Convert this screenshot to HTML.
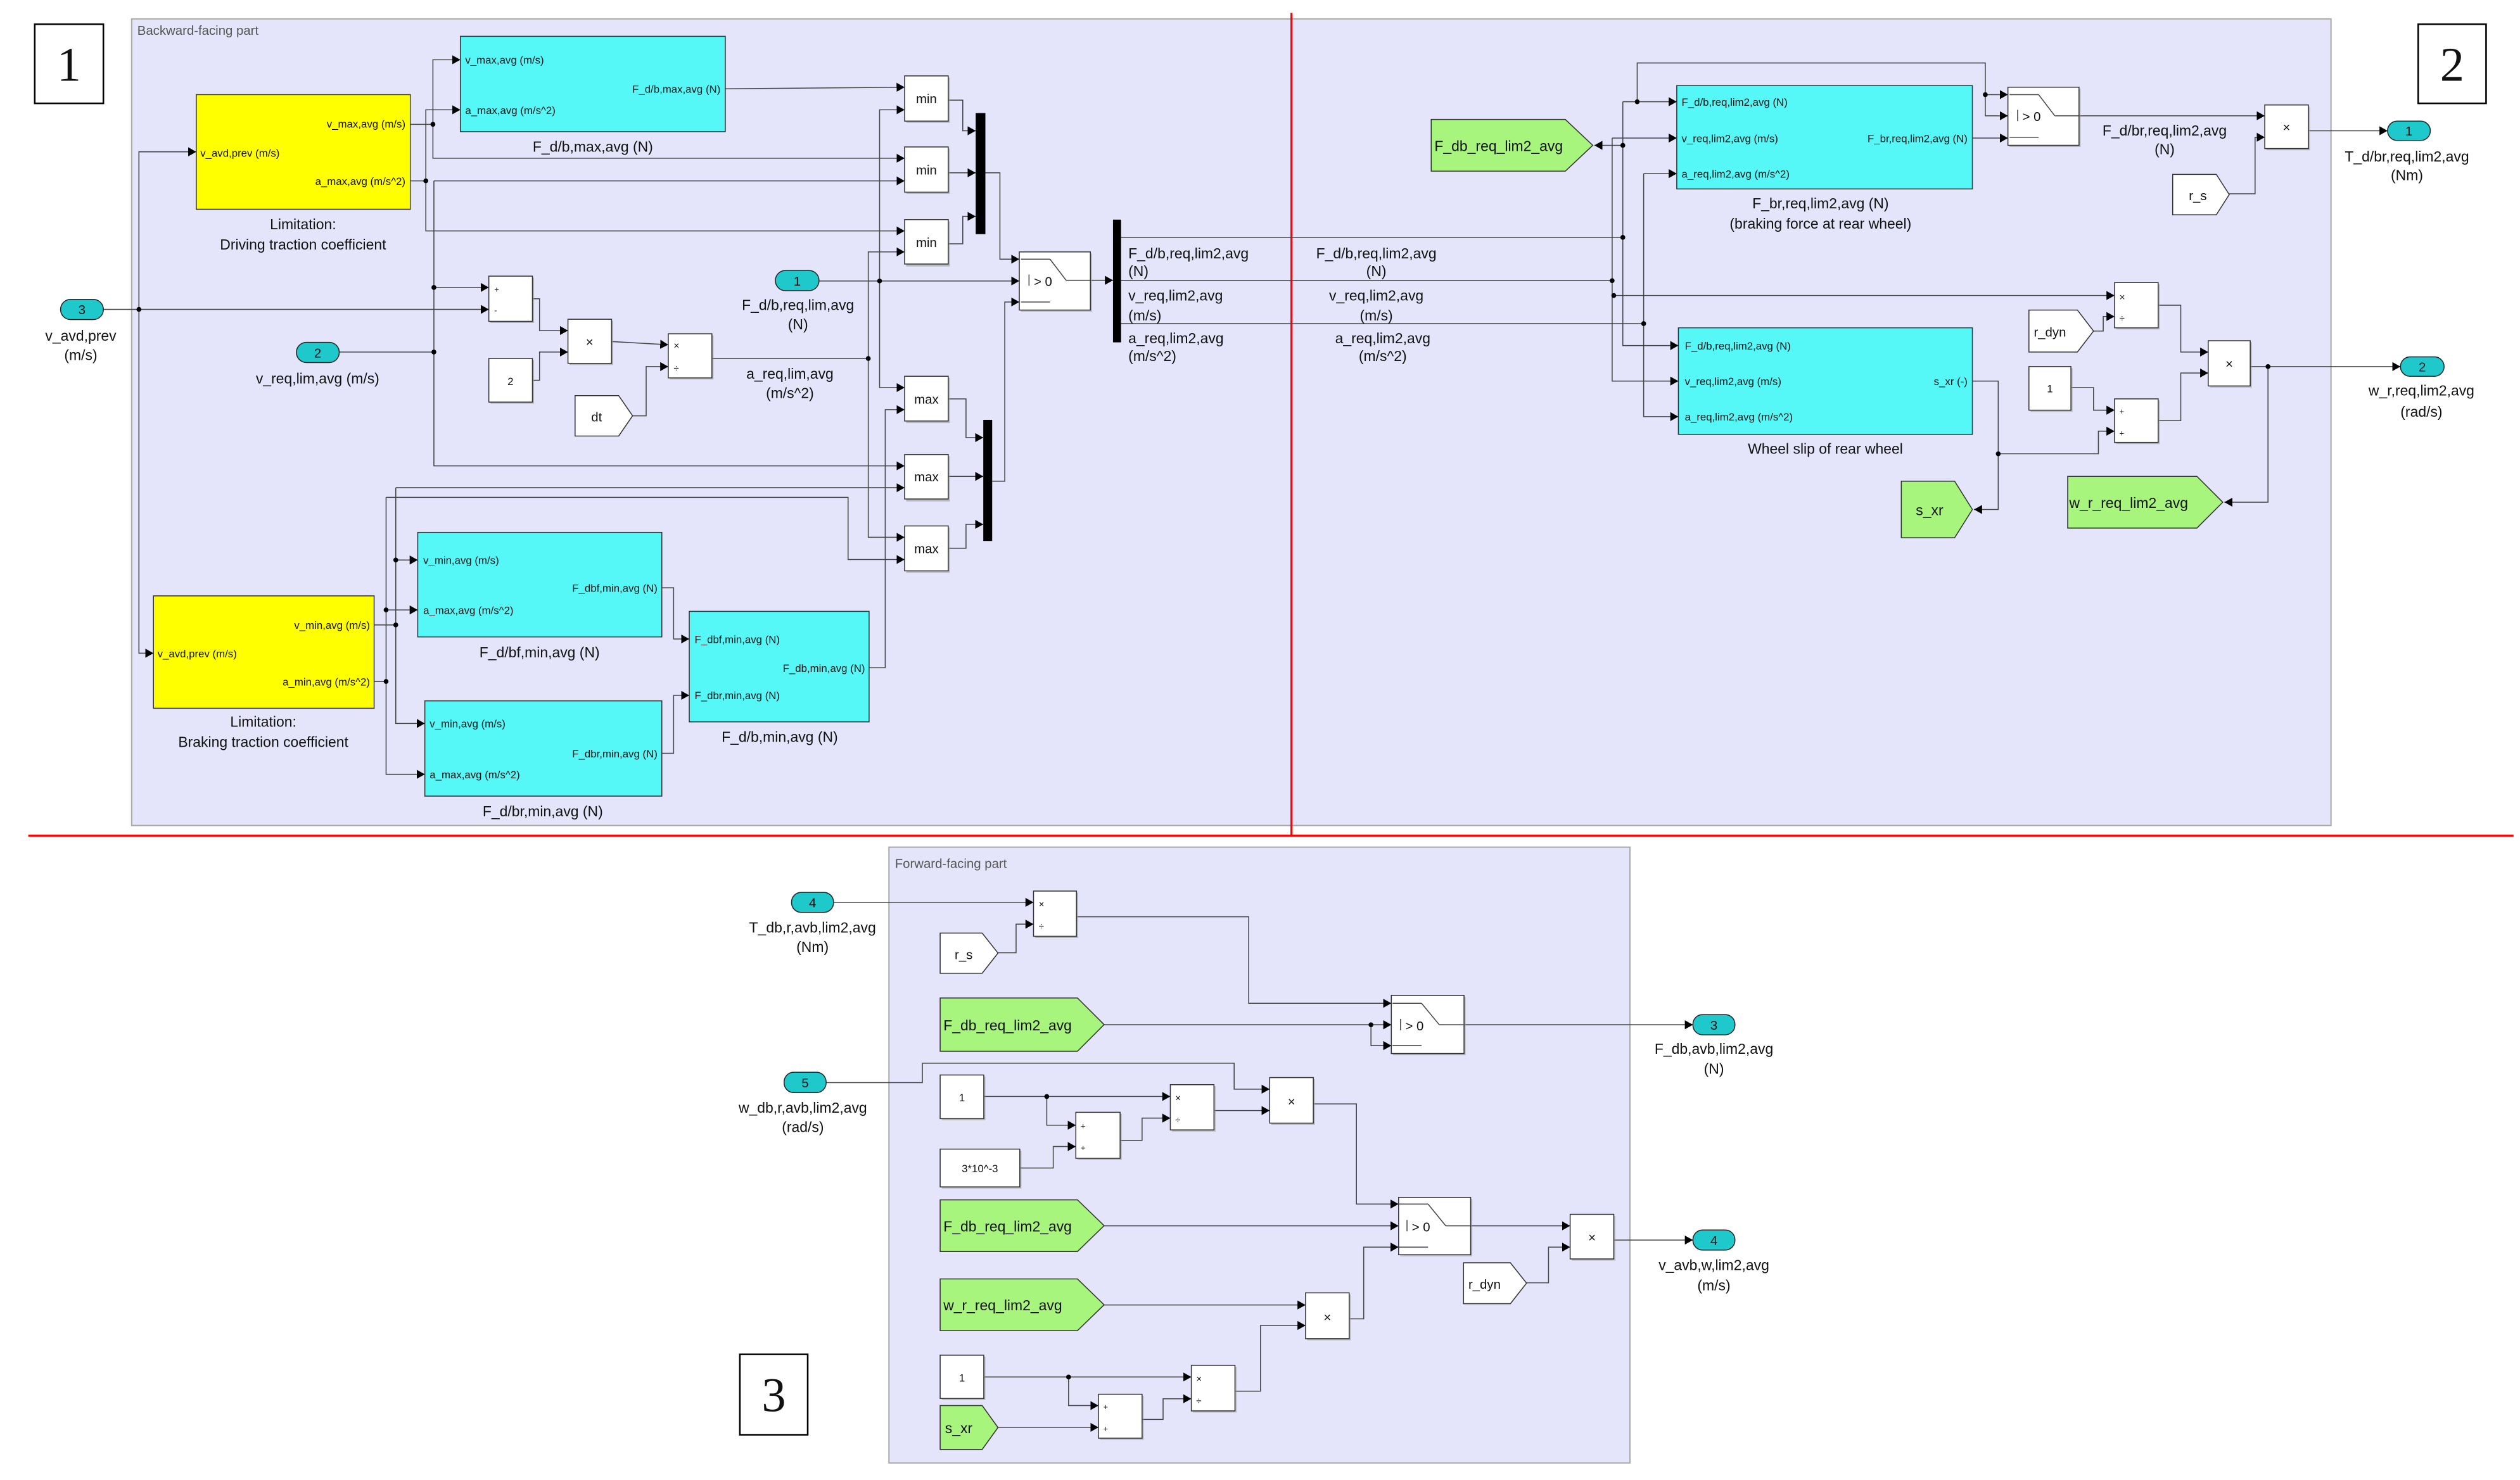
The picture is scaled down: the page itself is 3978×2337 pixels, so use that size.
<!DOCTYPE html>
<html><head><meta charset="utf-8"><style>
html,body{margin:0;padding:0;background:#fff}
svg{display:block}
text{font-family:"Liberation Sans",sans-serif;fill:#111}
.w{fill:none;stroke:#444;stroke-width:0.6}
.b{fill:#fff;stroke:#333;stroke-width:0.6}
.c{fill:#55f7f7;stroke:#333;stroke-width:0.6}
.y{fill:#ffff00;stroke:#333;stroke-width:0.6}
.g{fill:#a8f57e;stroke:#333;stroke-width:0.6}
.io{fill:#1fc8cb;stroke:#222;stroke-width:0.6}
.s{fill:#999;opacity:.6}
.p{font-size:6.6px}
.l{font-size:9px}
.t{font-size:8px}
.n{font-family:"Liberation Serif",serif;font-size:30px}
</style></head><body>
<svg width="3978" height="2337" viewBox="0 0 1560 916.5" preserveAspectRatio="none" xmlns="http://www.w3.org/2000/svg">
<defs><marker id="a" markerUnits="userSpaceOnUse" markerWidth="6" markerHeight="6" refX="5" refY="3" orient="auto"><path d="M0,0.2 L5,3 L0,5.8z" fill="#000"/></marker></defs>
<rect width="1560" height="916.5" fill="#fff"/>
<!-- panels -->
<rect x="81.5" y="11.7" width="1361.5" height="499.5" fill="#e4e4fa" stroke="#aaa" stroke-width="0.8"/>
<text x="85" y="21.5" class="t" fill="#555" style="fill:#555">Backward-facing part</text>
<rect x="550.3" y="524.6" width="458.7" height="381.4" fill="#e4e4fa" stroke="#aaa" stroke-width="0.8"/>
<text x="554" y="537.5" class="t" style="fill:#555">Forward-facing part</text>
<!-- red lines -->
<line x1="799.5" y1="8" x2="799.5" y2="518" stroke="#f00" stroke-width="1.3"/>
<line x1="17.5" y1="517.5" x2="1556" y2="517.5" stroke="#f00" stroke-width="1.3"/>
<!-- number boxes -->
<rect x="21.5" y="15" width="42.5" height="49" fill="#fff" stroke="#000" stroke-width="1"/><text x="42.7" y="50" class="n" text-anchor="middle">1</text>
<rect x="1497" y="15" width="42" height="49" fill="#fff" stroke="#000" stroke-width="1"/><text x="1518" y="50" class="n" text-anchor="middle">2</text>
<rect x="458" y="838.7" width="42" height="49.8" fill="#fff" stroke="#000" stroke-width="1"/><text x="479" y="874" class="n" text-anchor="middle">3</text>

<!-- ===== PANEL 1 wires ===== -->
<g class="w">
<polyline points="64,191.6 302.6,191.6" marker-end="url(#a)"/>
<polyline points="86,191.6 86,94 121.5,94" marker-end="url(#a)"/>
<polyline points="86,191.6 86,404.5 95,404.5" marker-end="url(#a)"/>
<!-- v_max -->
<polyline points="254,77 268,77"/>
<polyline points="268,77 268,37 285,37" marker-end="url(#a)"/>
<polyline points="268,77 268,98 560,98" marker-end="url(#a)"/>
<!-- a_max -->
<polyline points="254,112 263.6,112"/>
<polyline points="263.6,112 263.6,68 285,68" marker-end="url(#a)"/>
<polyline points="263.6,112 263.6,143 560,143" marker-end="url(#a)"/>
<!-- v_req -->
<polyline points="210,218 268.6,218"/>
<polyline points="268.6,112 560,112" marker-end="url(#a)"/>
<polyline points="268.6,112 268.6,288.5 560,288.5" marker-end="url(#a)"/>
<polyline points="268.6,178 302.6,178" marker-end="url(#a)"/>
<!-- F max -->
<polyline points="449,55 560,54" marker-end="url(#a)"/>
<!-- yellow 2 -->
<polyline points="231.6,387 245,387"/>
<polyline points="245,346.8 258.6,346.8" marker-end="url(#a)"/>
<polyline points="245,302 245,448 263,448" marker-end="url(#a)"/>
<polyline points="245,302 560,302" marker-end="url(#a)"/>
<polyline points="231.6,422 239,422"/>
<polyline points="239,377.7 258.6,377.7" marker-end="url(#a)"/>
<polyline points="239,308 239,479.5 263,479.5" marker-end="url(#a)"/>
<polyline points="239,308 525,308 525,346.5 560,346.5" marker-end="url(#a)"/>
<polyline points="409.7,364 417,364 417,395.7 426.7,395.7" marker-end="url(#a)"/>
<polyline points="409.7,466.5 417,466.5 417,430.6 426.7,430.6" marker-end="url(#a)"/>
<polyline points="538,413.5 548,413.5 548,253.7 560,253.7" marker-end="url(#a)"/>
<!-- F req -->
<polyline points="507,174 631,174" marker-end="url(#a)"/>
<polyline points="544.5,174 544.5,68 560,68" marker-end="url(#a)"/>
<polyline points="544.5,174 544.5,240 560,240" marker-end="url(#a)"/>
<!-- a req -->
<polyline points="440.7,222 537.5,222"/>
<polyline points="537.5,222 537.5,156 560,156" marker-end="url(#a)"/>
<polyline points="537.5,222 537.5,332.7 560,332.7" marker-end="url(#a)"/>
<!-- min outs -->
<polyline points="587,62 596,62 596,81 604,81" marker-end="url(#a)"/>
<polyline points="587,107 604,107" marker-end="url(#a)"/>
<polyline points="587,151 596,151 596,134 604,134" marker-end="url(#a)"/>
<polyline points="610,107 619,107 619,160.5 631,160.5" marker-end="url(#a)"/>
<polyline points="587,247 598,247 598,271 608.7,271" marker-end="url(#a)"/>
<polyline points="587,295 608.7,295" marker-end="url(#a)"/>
<polyline points="587,339.5 598,339.5 598,324.7 608.7,324.7" marker-end="url(#a)"/>
<polyline points="614,298 622,298 622,187 631,187" marker-end="url(#a)"/>
<polyline points="675,173.6 689,173.6" marker-end="url(#a)"/>
<!-- sum/prod -->
<polyline points="329.6,185 334,185 334,204.7 351.6,204.7" marker-end="url(#a)"/>
<polyline points="329.6,235.5 334,235.5 334,218 351.6,218" marker-end="url(#a)"/>
<polyline points="378.6,211.5 413.7,213.5" marker-end="url(#a)"/>
<polyline points="391.6,257.5 400,257.5 400,227 413.7,227" marker-end="url(#a)"/>
<!-- bus -->
<polyline points="694,147 1004.6,147"/>
<polyline points="694,173.8 998,173.8"/>
<polyline points="694,200.4 1017.5,200.4"/>
</g>
<g fill="#000">
<circle cx="86" cy="191.6" r="1.5"/><circle cx="268" cy="77" r="1.5"/><circle cx="263.6" cy="112" r="1.5"/>
<circle cx="268.6" cy="218" r="1.5"/><circle cx="268.6" cy="178" r="1.5"/><circle cx="245" cy="387" r="1.5"/>
<circle cx="245" cy="346.8" r="1.5"/><circle cx="239" cy="422" r="1.5"/><circle cx="239" cy="377.7" r="1.5"/>
<circle cx="544.5" cy="174" r="1.5"/><circle cx="537.5" cy="222" r="1.5"/>
</g>
<!-- blocks panel1 -->
<rect x="121.5" y="58.6" width="132.5" height="71" class="y"/>
<text x="251" y="79" class="p" text-anchor="end">v_max,avg (m/s)</text>
<text x="124" y="97" class="p">v_avd,prev (m/s)</text>
<text x="251" y="114.5" class="p" text-anchor="end">a_max,avg (m/s^2)</text>
<text x="187.6" y="142" class="l" text-anchor="middle">Limitation:</text>
<text x="187.6" y="154.5" class="l" text-anchor="middle">Driving traction coefficient</text>

<rect x="95" y="369" width="136.6" height="69.6" class="y"/>
<text x="229" y="389.5" class="p" text-anchor="end">v_min,avg (m/s)</text>
<text x="97.5" y="407" class="p">v_avd,prev (m/s)</text>
<text x="229" y="424.5" class="p" text-anchor="end">a_min,avg (m/s^2)</text>
<text x="163" y="450" class="l" text-anchor="middle">Limitation:</text>
<text x="163" y="462.5" class="l" text-anchor="middle">Braking traction coefficient</text>

<rect x="285" y="22.5" width="164" height="59" class="c"/>
<text x="288" y="39.5" class="p">v_max,avg (m/s)</text>
<text x="446" y="57.5" class="p" text-anchor="end">F_d/b,max,avg (N)</text>
<text x="288" y="70.5" class="p">a_max,avg (m/s^2)</text>
<text x="367" y="94" class="l" text-anchor="middle">F_d/b,max,avg (N)</text>

<rect x="258.6" y="329.7" width="151.1" height="64.7" class="c"/>
<text x="262" y="349.3" class="p">v_min,avg (m/s)</text>
<text x="407" y="366.5" class="p" text-anchor="end">F_dbf,min,avg (N)</text>
<text x="262" y="380.2" class="p">a_max,avg (m/s^2)</text>
<text x="334" y="407" class="l" text-anchor="middle">F_d/bf,min,avg (N)</text>

<rect x="263" y="434" width="146.7" height="59" class="c"/>
<text x="266" y="450.5" class="p">v_min,avg (m/s)</text>
<text x="407" y="469" class="p" text-anchor="end">F_dbr,min,avg (N)</text>
<text x="266" y="482" class="p">a_max,avg (m/s^2)</text>
<text x="336" y="505.5" class="l" text-anchor="middle">F_d/br,min,avg (N)</text>

<rect x="426.7" y="378.6" width="111.3" height="68.4" class="c"/>
<text x="430" y="398.2" class="p">F_dbf,min,avg (N)</text>
<text x="535.5" y="416" class="p" text-anchor="end">F_db,min,avg (N)</text>
<text x="430" y="433" class="p">F_dbr,min,avg (N)</text>
<text x="482.7" y="459.5" class="l" text-anchor="middle">F_d/b,min,avg (N)</text>

<g class="t" text-anchor="middle">
<rect x="561" y="48" width="27" height="28" class="s"/><rect x="560" y="47" width="27" height="28" class="b"/><text x="573.5" y="64">min</text>
<rect x="561" y="92" width="27" height="28" class="s"/><rect x="560" y="91" width="27" height="28" class="b"/><text x="573.5" y="108">min</text>
<rect x="561" y="137" width="27" height="28" class="s"/><rect x="560" y="136" width="27" height="27.5" class="b"/><text x="573.5" y="153">min</text>
<rect x="561" y="234" width="27" height="28" class="s"/><rect x="560" y="233" width="27" height="27.7" class="b"/><text x="573.5" y="250">max</text>
<rect x="561" y="282.5" width="27" height="28" class="s"/><rect x="560" y="281.5" width="27" height="27.5" class="b"/><text x="573.5" y="298">max</text>
<rect x="561" y="326.7" width="27" height="28" class="s"/><rect x="560" y="325.7" width="27" height="27.8" class="b"/><text x="573.5" y="342.5">max</text>
</g>
<rect x="604" y="70" width="6" height="75" fill="#000"/>
<rect x="608.7" y="260" width="5.5" height="75" fill="#000"/>
<rect x="689" y="136" width="5" height="76" fill="#000"/>
<!-- switch1 -->
<rect x="632" y="157" width="44" height="36" class="s"/>
<rect x="631" y="156" width="44" height="36" class="b"/>
<g class="w"><line x1="632" y1="160.5" x2="650" y2="160.5"/><line x1="650" y1="160.5" x2="660" y2="173.6"/><line x1="660" y1="173.6" x2="675" y2="173.6"/><line x1="632" y1="187" x2="650" y2="187"/><line x1="637" y1="170" x2="637" y2="177"/></g>
<text x="640" y="177" class="t">&gt; 0</text>
<!-- sum, prod etc -->
<rect x="303.6" y="172" width="27" height="28" class="s"/><rect x="302.6" y="171" width="27" height="28" class="b"/>
<text x="306" y="181" style="font-size:5px">+</text><text x="306" y="194" style="font-size:5px">-</text>
<rect x="352.6" y="198.7" width="27" height="27.3" class="s"/><rect x="351.6" y="197.7" width="27" height="27.3" class="b"/><text x="365" y="214.5" class="t" text-anchor="middle">×</text>
<rect x="303.6" y="223" width="27" height="27" class="s"/><rect x="302.6" y="222" width="27" height="27" class="b"/><text x="316" y="238.5" class="p" text-anchor="middle">2</text>
<rect x="414.7" y="207.7" width="27" height="27.3" class="s"/><rect x="413.7" y="206.7" width="27" height="27.3" class="b"/>
<text x="417" y="216" style="font-size:6px">×</text><text x="417" y="230" style="font-size:6px">÷</text>
<polygon points="356,245 383,245 391.6,257.5 383,270 356,270" class="b"/><text x="366" y="261" class="t">dt</text>
<text x="489" y="234.5" class="l" text-anchor="middle">a_req,lim,avg</text>
<text x="489" y="246.5" class="l" text-anchor="middle">(m/s^2)</text>
<!-- inports -->
<rect x="480" y="167.5" width="27" height="12.5" rx="6.2" class="io"/><text x="493.5" y="176.8" class="t" text-anchor="middle">1</text>
<text x="494" y="192" class="l" text-anchor="middle">F_d/b,req,lim,avg</text><text x="494" y="204" class="l" text-anchor="middle">(N)</text>
<rect x="37.5" y="185.4" width="26.5" height="12.5" rx="6.2" class="io"/><text x="50.7" y="194.6" class="t" text-anchor="middle">3</text>
<text x="50" y="211" class="l" text-anchor="middle">v_avd,prev</text><text x="50" y="223" class="l" text-anchor="middle">(m/s)</text>
<rect x="183.5" y="212" width="26.5" height="12.5" rx="6.2" class="io"/><text x="196.7" y="221.3" class="t" text-anchor="middle">2</text>
<text x="196.6" y="237.5" class="l" text-anchor="middle">v_req,lim,avg (m/s)</text>
<!-- bus labels -->
<g class="l">
<text x="698.5" y="160">F_d/b,req,lim2,avg</text><text x="698.5" y="171">(N)</text>
<text x="698.5" y="186">v_req,lim2,avg</text><text x="698.5" y="198.5">(m/s)</text>
<text x="698.5" y="212.5">a_req,lim2,avg</text><text x="698.5" y="223.5">(m/s^2)</text>
</g>
<g class="l" text-anchor="middle">
<text x="852" y="160">F_d/b,req,lim2,avg</text><text x="852" y="171">(N)</text>
<text x="852" y="186">v_req,lim2,avg</text><text x="852" y="198.5">(m/s)</text>
<text x="856" y="212.5">a_req,lim2,avg</text><text x="856" y="223.5">(m/s^2)</text>
</g>

<!-- ===== PANEL 2 ===== -->
<g class="w">
<polyline points="1004.6,147 1004.6,63"/>
<polyline points="1004.6,90 987,90" marker-end="url(#a)"/>
<polyline points="1004.6,63 1038,63" marker-end="url(#a)"/>
<polyline points="1013.5,63 1013.5,39 1229,39 1229,58.6 1243,58.6" marker-end="url(#a)"/>
<polyline points="1229,58.6 1229,71.7 1243,71.7" marker-end="url(#a)"/>
<polyline points="1004.6,147 1004.6,214 1039,214" marker-end="url(#a)"/>
<polyline points="998,85.5 1038,85.5" marker-end="url(#a)"/>
<polyline points="998,85.5 998,236 1039,236" marker-end="url(#a)"/>
<polyline points="1000,183 1309,183" marker-end="url(#a)"/>
<polyline points="1017.5,107.5 1038,107.5" marker-end="url(#a)"/>
<polyline points="1017.5,107.5 1017.5,258 1039,258" marker-end="url(#a)"/>
<polyline points="1221,85.5 1243,85.5" marker-end="url(#a)"/>
<polyline points="1287,71.7 1402,71.7" marker-end="url(#a)"/>
<polyline points="1380,120 1396,120 1396,85 1402,85" marker-end="url(#a)"/>
<polyline points="1429,81 1478,81" marker-end="url(#a)"/>
<polyline points="1296,205 1302,205 1302,196 1309,196" marker-end="url(#a)"/>
<polyline points="1336,189 1350,189 1350,218 1367,218" marker-end="url(#a)"/>
<polyline points="1282,240 1296,240 1296,254 1309,254" marker-end="url(#a)"/>
<polyline points="1221,236 1237,236 1237,315.5 1222,315.5" marker-end="url(#a)"/>
<polyline points="1237,281 1299,281 1299,267 1309,267" marker-end="url(#a)"/>
<polyline points="1336,260.5 1350,260.5 1350,231 1367,231" marker-end="url(#a)"/>
<polyline points="1393,227 1486,227" marker-end="url(#a)"/>
<polyline points="1404,227 1404,311 1377,311" marker-end="url(#a)"/>
</g>
<g fill="#000">
<circle cx="1004.6" cy="147" r="1.5"/><circle cx="1004.6" cy="90" r="1.5"/><circle cx="1013.5" cy="63" r="1.5"/>
<circle cx="998" cy="173.8" r="1.5"/><circle cx="999" cy="183" r="1.5"/><circle cx="1017.5" cy="200.4" r="1.5"/>
<circle cx="1229" cy="58.6" r="1.5"/><circle cx="1237" cy="281" r="1.5"/><circle cx="1404" cy="227" r="1.5"/>
</g>
<polygon points="886,74 969,74 986,90 969,106 886,106" class="g"/>
<text x="888" y="93.5" class="l">F_db_req_lim2_avg</text>
<rect x="1038" y="53" width="183" height="64" class="c"/>
<text x="1041" y="65.5" class="p">F_d/b,req,lim2,avg (N)</text>
<text x="1041" y="88" class="p">v_req,lim2,avg (m/s)</text>
<text x="1218" y="88" class="p" text-anchor="end">F_br,req,lim2,avg (N)</text>
<text x="1041" y="110" class="p">a_req,lim2,avg (m/s^2)</text>
<text x="1127" y="129" class="l" text-anchor="middle">F_br,req,lim2,avg (N)</text>
<text x="1127" y="141.5" class="l" text-anchor="middle">(braking force at rear wheel)</text>
<rect x="1244" y="55" width="44" height="36" class="s"/><rect x="1243" y="54" width="44" height="36" class="b"/>
<g class="w"><line x1="1244" y1="58.6" x2="1262" y2="58.6"/><line x1="1262" y1="58.6" x2="1272" y2="71.7"/><line x1="1272" y1="71.7" x2="1287" y2="71.7"/><line x1="1244" y1="85" x2="1262" y2="85"/><line x1="1249" y1="68" x2="1249" y2="75"/></g>
<text x="1252" y="75" class="t">&gt; 0</text>
<rect x="1403" y="66" width="27" height="27" class="s"/><rect x="1402" y="65" width="27" height="27" class="b"/><text x="1415.5" y="81.5" class="t" text-anchor="middle">×</text>
<text x="1340" y="84" class="l" text-anchor="middle">F_d/br,req,lim2,avg</text><text x="1340" y="95.5" class="l" text-anchor="middle">(N)</text>
<rect x="1478" y="75" width="26.5" height="12" rx="6" class="io"/><text x="1491.2" y="84" class="t" text-anchor="middle">1</text>
<text x="1490" y="100" class="l" text-anchor="middle">T_d/br,req,lim2,avg</text><text x="1490" y="111.5" class="l" text-anchor="middle">(Nm)</text>
<polygon points="1345,108 1372,108 1380,120.5 1372,133 1345,133" class="b"/><text x="1355" y="124" class="t">r_s</text>
<rect x="1039" y="203" width="182" height="66" class="c"/>
<text x="1043" y="216.5" class="p">F_d/b,req,lim2,avg (N)</text>
<text x="1043" y="238.5" class="p">v_req,lim2,avg (m/s)</text>
<text x="1218" y="238.5" class="p" text-anchor="end">s_xr (-)</text>
<text x="1043" y="260.5" class="p">a_req,lim2,avg (m/s^2)</text>
<text x="1130" y="281" class="l" text-anchor="middle">Wheel slip of rear wheel</text>
<rect x="1310" y="176" width="27" height="28" class="s"/><rect x="1309" y="175" width="27" height="28" class="b"/>
<text x="1312" y="186" style="font-size:6px">×</text><text x="1312" y="199" style="font-size:6px">÷</text>
<polygon points="1256,192 1286,192 1296,205 1286,218 1256,218" class="b"/><text x="1259" y="208.5" class="t">r_dyn</text>
<rect x="1257" y="228" width="26" height="27" class="s"/><rect x="1256" y="227" width="26" height="27" class="b"/><text x="1269" y="243" class="p" text-anchor="middle">1</text>
<rect x="1310" y="248" width="27" height="27" class="s"/><rect x="1309" y="247" width="27" height="27" class="b"/>
<text x="1312" y="256.5" style="font-size:5px">+</text><text x="1312" y="270" style="font-size:5px">+</text>
<rect x="1368" y="212" width="26" height="28" class="s"/><rect x="1367" y="211" width="26" height="28" class="b"/><text x="1380" y="228" class="t" text-anchor="middle">×</text>
<rect x="1486" y="221" width="27" height="12" rx="6" class="io"/><text x="1499.5" y="230" class="t" text-anchor="middle">2</text>
<text x="1499" y="245" class="l" text-anchor="middle">w_r,req,lim2,avg</text><text x="1499" y="258" class="l" text-anchor="middle">(rad/s)</text>
<polygon points="1177,298 1210,298 1221,315.5 1210,333 1177,333" class="g"/><text x="1186" y="319" class="l">s_xr</text>
<polygon points="1280,295 1360,295 1376,311 1360,327 1280,327" class="g"/><text x="1281" y="314.5" class="l">w_r_req_lim2_avg</text>

<!-- ===== PANEL 3 ===== -->
<g class="w">
<polyline points="516,558.8 639.8,558.8" marker-end="url(#a)"/>
<polyline points="617.8,590 629,590 629,572.3 639.8,572.3" marker-end="url(#a)"/>
<polyline points="666.4,567.7 773,567.7 773,621.3 861.3,621.3" marker-end="url(#a)"/>
<polyline points="683.5,634.6 861.3,634.6" marker-end="url(#a)"/>
<polyline points="848.7,634.6 848.7,647.5 861.3,647.5" marker-end="url(#a)"/>
<polyline points="906.4,634.6 1048,634.6" marker-end="url(#a)"/>
<polyline points="511.5,670.4 571,670.4 571,658.4 764,658.4 764,674.5 786,674.5" marker-end="url(#a)"/>
<polyline points="609,679 724.5,679" marker-end="url(#a)"/>
<polyline points="648,679 648,696.8 666,696.8" marker-end="url(#a)"/>
<polyline points="631.3,723.3 652,723.3 652,710 666,710" marker-end="url(#a)"/>
<polyline points="693.4,706.2 707,706.2 707,692.4 724.5,692.4" marker-end="url(#a)"/>
<polyline points="751.5,687.7 786,687.7" marker-end="url(#a)"/>
<polyline points="813,683.6 839.7,683.6 839.7,745.6 865.8,745.6" marker-end="url(#a)"/>
<polyline points="683.5,759.1 865.8,759.1" marker-end="url(#a)"/>
<polyline points="910.4,759.1 972,759.1" marker-end="url(#a)"/>
<polyline points="945,794.4 958.6,794.4 958.6,772.3 972,772.3" marker-end="url(#a)"/>
<polyline points="999,767.9 1048,767.9" marker-end="url(#a)"/>
<polyline points="683.5,808.1 808.2,808.1" marker-end="url(#a)"/>
<polyline points="835.2,816.7 844.2,816.7 844.2,772.3 865.8,772.3" marker-end="url(#a)"/>
<polyline points="609,852.7 737.5,852.7" marker-end="url(#a)"/>
<polyline points="661.5,852.7 661.5,870.4 680,870.4" marker-end="url(#a)"/>
<polyline points="617.8,883.9 680,883.9" marker-end="url(#a)"/>
<polyline points="707,879 720,879 720,866.2 737.5,866.2" marker-end="url(#a)"/>
<polyline points="764.6,861.5 780.3,861.5 780.3,820.8 808.2,820.8" marker-end="url(#a)"/>
</g>
<g fill="#000"><circle cx="848.7" cy="634.6" r="1.5"/><circle cx="648" cy="679" r="1.5"/><circle cx="661.5" cy="852.7" r="1.5"/></g>
<rect x="490" y="552.6" width="26" height="12.4" rx="6" class="io"/><text x="503" y="561.8" class="t" text-anchor="middle">4</text>
<text x="503" y="577.5" class="l" text-anchor="middle">T_db,r,avb,lim2,avg</text><text x="503" y="589.5" class="l" text-anchor="middle">(Nm)</text>
<rect x="640.8" y="552.8" width="26.6" height="28" class="s"/><rect x="639.8" y="551.8" width="26.6" height="28" class="b"/>
<text x="643" y="562" style="font-size:6px">×</text><text x="643" y="575.5" style="font-size:6px">÷</text>
<polygon points="582,577.8 608,577.8 617.8,590.2 608,602.7 582,602.7" class="b"/><text x="591" y="594" class="t">r_s</text>
<polygon points="582,618 667,618 683.5,634.5 667,651 582,651" class="g"/><text x="584" y="638" class="l">F_db_req_lim2_avg</text>
<rect x="862.3" y="617.4" width="45" height="36" class="s"/><rect x="861.3" y="616.4" width="45" height="36" class="b"/>
<g class="w"><line x1="862" y1="621.3" x2="880" y2="621.3"/><line x1="880" y1="621.3" x2="891" y2="634.6"/><line x1="891" y1="634.6" x2="906" y2="634.6"/><line x1="862" y1="647.5" x2="880" y2="647.5"/><line x1="867" y1="631" x2="867" y2="638"/></g>
<text x="870" y="638" class="t">&gt; 0</text>
<rect x="1048" y="628.3" width="26" height="12.5" rx="6" class="io"/><text x="1061" y="637.6" class="t" text-anchor="middle">3</text>
<text x="1061" y="652.5" class="l" text-anchor="middle">F_db,avb,lim2,avg</text><text x="1061" y="665" class="l" text-anchor="middle">(N)</text>
<rect x="485.4" y="664" width="26" height="12.6" rx="6" class="io"/><text x="498.4" y="673.4" class="t" text-anchor="middle">5</text>
<text x="497" y="689" class="l" text-anchor="middle">w_db,r,avb,lim2,avg</text><text x="497" y="701" class="l" text-anchor="middle">(rad/s)</text>
<rect x="583" y="666.7" width="27" height="27" class="s"/><rect x="582" y="665.7" width="27" height="27" class="b"/><text x="595.5" y="682" class="p" text-anchor="middle">1</text>
<rect x="667" y="689.8" width="27.4" height="28.5" class="s"/><rect x="666" y="688.8" width="27.4" height="28.5" class="b"/>
<text x="669" y="699" style="font-size:5px">+</text><text x="669" y="712.5" style="font-size:5px">+</text>
<rect x="583" y="712.6" width="49.3" height="23.4" class="s"/><rect x="582" y="711.6" width="49.3" height="23.4" class="b"/><text x="606.6" y="726" class="p" text-anchor="middle">3*10^-3</text>
<rect x="725.5" y="672.7" width="27" height="28" class="s"/><rect x="724.5" y="671.7" width="27" height="28" class="b"/>
<text x="727.5" y="682" style="font-size:6px">×</text><text x="727.5" y="695.5" style="font-size:6px">÷</text>
<rect x="787" y="668.3" width="27" height="28.2" class="s"/><rect x="786" y="667.3" width="27" height="28.2" class="b"/><text x="799.5" y="685" class="t" text-anchor="middle">×</text>
<polygon points="582,743 667,743 683.5,759 667,775 582,775" class="g"/><text x="584" y="762.5" class="l">F_db_req_lim2_avg</text>
<rect x="866.8" y="742.5" width="44.6" height="35.5" class="s"/><rect x="865.8" y="741.5" width="44.6" height="35.5" class="b"/>
<g class="w"><line x1="866" y1="745.6" x2="884" y2="745.6"/><line x1="884" y1="745.6" x2="895" y2="759.1"/><line x1="895" y1="759.1" x2="910" y2="759.1"/><line x1="866" y1="772.3" x2="884" y2="772.3"/><line x1="871" y1="755.5" x2="871" y2="762.5"/></g>
<text x="874" y="762.5" class="t">&gt; 0</text>
<rect x="973" y="753" width="27" height="27.6" class="s"/><rect x="972" y="752" width="27" height="27.6" class="b"/><text x="985.5" y="769" class="t" text-anchor="middle">×</text>
<rect x="1048" y="761.7" width="26" height="12.4" rx="6" class="io"/><text x="1061" y="771" class="t" text-anchor="middle">4</text>
<text x="1061" y="786.5" class="l" text-anchor="middle">v_avb,w,lim2,avg</text><text x="1061" y="799" class="l" text-anchor="middle">(m/s)</text>
<polygon points="906,782 935,782 945,794.6 935,807.3 906,807.3" class="b"/><text x="909" y="798" class="t">r_dyn</text>
<polygon points="582,792 667,792 683.5,808 667,824 582,824" class="g"/><text x="584" y="811.5" class="l">w_r_req_lim2_avg</text>
<rect x="809.2" y="801.6" width="27" height="28.4" class="s"/><rect x="808.2" y="800.6" width="27" height="28.4" class="b"/><text x="821.7" y="818.5" class="t" text-anchor="middle">×</text>
<rect x="583" y="840.2" width="27" height="26.8" class="s"/><rect x="582" y="839.2" width="27" height="26.8" class="b"/><text x="595.5" y="855.5" class="p" text-anchor="middle">1</text>
<rect x="738.5" y="846.5" width="27" height="28.2" class="s"/><rect x="737.5" y="845.5" width="27" height="28.2" class="b"/>
<text x="740.5" y="856" style="font-size:6px">×</text><text x="740.5" y="869.5" style="font-size:6px">÷</text>
<rect x="681" y="864.4" width="27" height="27.2" class="s"/><rect x="680" y="863.4" width="27" height="27.2" class="b"/>
<text x="683" y="873" style="font-size:5px">+</text><text x="683" y="886.5" style="font-size:5px">+</text>
<polygon points="582,870.4 608,870.4 617.8,884 608,897.6 582,897.6" class="g"/><text x="585" y="887.5" class="l">s_xr</text>
</svg>
</body></html>
